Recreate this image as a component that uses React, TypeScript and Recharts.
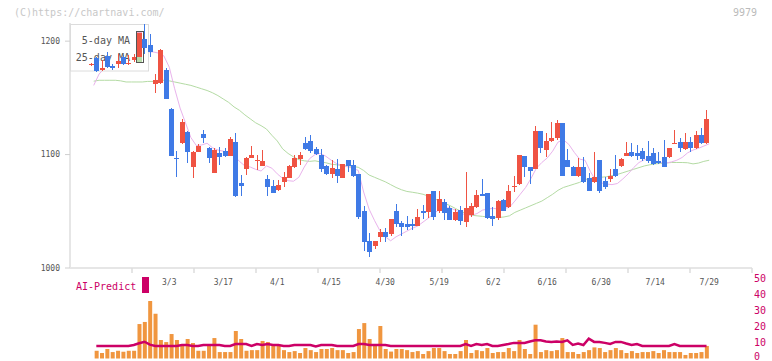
import React from 'react';
import { ComposedChart, Bar, Line, XAxis, YAxis } from 'recharts';

// trading days shown on the chart (one candle each)
const dates = [
  '2/6', '2/7', '2/10', '2/12', '2/13', '2/14', '2/17', '2/18', '2/19', '2/20',
  '2/21', '2/25', '2/26', '2/27', '2/28', '3/3', '3/4', '3/5', '3/6', '3/7',
  '3/10', '3/11', '3/12', '3/13', '3/14', '3/17', '3/18', '3/19', '3/21', '3/24',
  '3/25', '3/26', '3/27', '3/28', '3/31', '4/1', '4/2', '4/3', '4/4', '4/7',
  '4/8', '4/9', '4/10', '4/11', '4/14', '4/15', '4/16', '4/17', '4/18', '4/21',
  '4/22', '4/23', '4/24', '4/25', '4/28', '4/30', '5/1', '5/2', '5/7', '5/8',
  '5/9', '5/12', '5/13', '5/14', '5/15', '5/19', '5/20', '5/21', '5/22', '5/23',
  '5/26', '5/27', '5/28', '5/29', '5/30', '6/2', '6/3', '6/4', '6/5', '6/6',
  '6/9', '6/10', '6/11', '6/12', '6/13', '6/16', '6/17', '6/18', '6/19', '6/20',
  '6/23', '6/24', '6/25', '6/26', '6/27', '6/30', '7/1', '7/2', '7/3', '7/4',
  '7/7', '7/8', '7/9', '7/10', '7/11', '7/14', '7/15', '7/16', '7/17', '7/18',
  '7/22', '7/23', '7/24', '7/25', '7/28', '7/29',
];

const opens = [
  1179, 1185, 1175, 1187, 1178, 1179.5, 1186, 1180, 1183, 1186,
  1201.5, 1197, 1162, 1163, 1175, 1140, 1097, 1110, 1120, 1089,
  1102.5, 1118, 1106, 1084, 1101.5, 1103, 1099, 1111, 1075, 1087.5,
  1097, 1094, 1090, 1078.4, 1072.5, 1068.7, 1075.8, 1079.6, 1089, 1096,
  1110.4, 1112, 1104.8, 1100, 1090, 1083, 1087, 1079.6, 1095, 1090.7,
  1082.8, 1050, 1023.8, 1019.4, 1027.3, 1031.7, 1029.7, 1050, 1039.4, 1039,
  1039, 1037.3, 1050.2, 1049.6, 1067.6, 1050.2, 1058, 1053, 1042.5, 1051,
  1040.8, 1047, 1054, 1065, 1065.8, 1045.8, 1044.3, 1060, 1054, 1071.6,
  1074, 1098.7, 1088.7, 1087.2, 1120.7, 1104, 1112, 1114.8, 1127.5, 1095,
  1089.2, 1081.3, 1089, 1079, 1076, 1095, 1076.6, 1078.4, 1087, 1090,
  1099, 1102, 1101.6, 1103, 1099, 1101.6, 1094.5, 1097.5, 1097.5, 1110,
  1110.8, 1104.6, 1110.8, 1106, 1117.2, 1110,
];

const highs = [
  1181, 1186, 1183, 1190, 1180, 1189, 1188, 1188, 1189, 1208.5,
  1215, 1206, 1171, 1193, 1176, 1141, 1103, 1131, 1121, 1103,
  1109, 1122, 1107, 1105.5, 1107, 1106, 1115.5, 1119, 1082, 1098,
  1108, 1100, 1104, 1082, 1078, 1078, 1085, 1091, 1100, 1102.5,
  1115.7, 1117, 1107, 1104.8, 1091, 1095.5, 1096, 1092, 1095.5, 1095,
  1083, 1054.6, 1031, 1024, 1034.4, 1035.5, 1043.5, 1056.4, 1041, 1045.8,
  1043, 1051.7, 1055.5, 1065.5, 1068, 1067.6, 1060.8, 1055, 1052, 1054.6,
  1085, 1057, 1068.7, 1078.4, 1066, 1054, 1060, 1061, 1073, 1081,
  1100, 1099, 1089, 1125.4, 1121, 1118.7, 1128.4, 1130.4, 1128, 1104.8,
  1090, 1097, 1098, 1083.7, 1102, 1095.5, 1080, 1087.2, 1099.6, 1097,
  1111.3, 1110, 1108.4, 1106, 1111.9, 1105.7, 1102.5, 1112.8, 1106, 1121.6,
  1115, 1119.2, 1115.7, 1120.7, 1123, 1139.2,
];

const lows = [
  1178, 1173, 1174, 1176, 1175, 1176, 1179, 1179, 1182, 1181,
  1189, 1186, 1154, 1162, 1149, 1099, 1080, 1109, 1093, 1079,
  1102, 1110, 1093, 1084, 1091, 1098, 1099, 1063, 1063.5, 1082,
  1097, 1086, 1090, 1063.7, 1066, 1068, 1071, 1079, 1088, 1091,
  1104, 1101, 1100, 1084.8, 1082, 1079, 1074.5, 1079, 1085, 1080.4,
  1043.3, 1015, 1010, 1017, 1023.2, 1023, 1028, 1036, 1028.2, 1033.5,
  1033.5, 1037, 1043, 1043.7, 1042.7, 1048.2, 1042.3, 1042, 1041, 1038,
  1036.4, 1045, 1053, 1063.4, 1043, 1037, 1042, 1050, 1053, 1067.2,
  1073, 1080, 1074, 1087, 1101.6, 1098, 1111, 1113, 1081, 1089,
  1081, 1080, 1075, 1068, 1075, 1066.4, 1070, 1076, 1080, 1089,
  1099, 1098, 1095, 1094, 1093, 1091, 1092, 1089, 1097, 1109,
  1102.5, 1104, 1102.5, 1105, 1109, 1109,
];

const closes = [
  1180, 1174, 1176, 1177, 1176, 1182.5, 1180, 1181, 1186, 1207,
  1194, 1190.5, 1166, 1192, 1149, 1099, 1096, 1129, 1102.5, 1102,
  1108, 1115, 1097, 1104, 1098, 1099, 1113.5, 1063.5, 1072.5, 1097,
  1100, 1095, 1094.3, 1071.6, 1066.3, 1073, 1080.2, 1090, 1097, 1099.6,
  1104.8, 1103.3, 1100.7, 1087, 1083, 1088.4, 1081.3, 1091.6, 1090, 1081.3,
  1044.7, 1023, 1014.4, 1023.8, 1031.7, 1027.6, 1043.2, 1039, 1036.4, 1036.5,
  1037, 1044.7, 1048.7, 1065.2, 1045.2, 1060.8, 1048.7, 1042.3, 1049.5, 1041,
  1053, 1054.4, 1064.3, 1063.7, 1044.3, 1042.9, 1059.3, 1050.5, 1067.8, 1072.2,
  1099.6, 1088.7, 1085.7, 1120.7, 1106, 1112, 1115, 1127.5, 1081.3, 1089.2,
  1081.3, 1089.2, 1076, 1068.1, 1080, 1068, 1071.6, 1081, 1081, 1096,
  1101.6, 1099, 1099, 1096, 1094.5, 1091.4, 1092.8, 1089.2, 1105.5, 1110.4,
  1106, 1110.8, 1105.5, 1117.2, 1110, 1131.3,
];

const ma5 = [
  null, 1161, 1171, 1176, 1177, 1178, 1179, 1180, 1182, 1186,
  1190, 1190.5, 1190.5, 1189.5, 1187, 1177, 1158, 1141, 1128, 1115,
  1108, 1108.5, 1110, 1106, 1104, 1103, 1101, 1099, 1094, 1090,
  1089, 1087, 1085.5, 1090, 1088, 1083, 1079, 1077, 1076.5, 1080,
  1089, 1096.5, 1100, 1101, 1098.5, 1095, 1092, 1090.5, 1089.2, 1088,
  1086, 1067, 1052, 1042, 1033, 1027.6, 1024, 1027.5, 1030, 1032.5,
  1035, 1037, 1040.5, 1044, 1048, 1051.5, 1053, 1053, 1051, 1048.5,
  1046.5, 1046.5, 1048, 1051, 1052, 1052.6, 1052, 1052.5, 1053.5, 1059,
  1065, 1071, 1079, 1088, 1093, 1097, 1103, 1111, 1113, 1109,
  1102, 1096, 1095, 1085, 1077, 1075, 1074, 1073.5, 1074.5, 1078.5,
  1083, 1088.5, 1093, 1095.5, 1095.5, 1094.5, 1093, 1092.5, 1093.5, 1095,
  1097.5, 1101.5, 1104, 1105.5, 1107.5, 1109.5,
];

const ma25 = [
  null, 1164.7, 1165.5, 1165.5, 1165.5, 1165.5, 1165, 1164, 1164, 1164,
  1164, 1164.5, 1164.5, 1165, 1165.5, 1165, 1164, 1163, 1162, 1161,
  1159.5, 1158, 1156.5, 1154.5, 1152, 1149, 1146, 1142, 1139, 1135,
  1131.5, 1128, 1125.5, 1122.5, 1117, 1112, 1105, 1101, 1098, 1095.5,
  1094.5, 1094, 1094.5, 1093.5, 1092.8, 1091.5, 1091, 1090.5, 1090, 1089.5,
  1088.8, 1086, 1082, 1080, 1078, 1076, 1073.5, 1071, 1069, 1067.5,
  1066.8, 1066, 1065, 1063.3, 1061.5, 1059, 1057, 1055, 1052.5, 1050,
  1048, 1046.5, 1046, 1045.5, 1045, 1044.8, 1044.5, 1045, 1046, 1049,
  1051, 1053, 1055, 1057, 1059, 1062, 1065, 1068.5, 1071, 1072.5,
  1074, 1075.5, 1078, 1079, 1079.5, 1080, 1080.5, 1081.5, 1082.5, 1084,
  1085.5, 1087, 1088.5, 1090, 1091, 1091.8, 1092.2, 1092.6, 1093, 1093,
  1093, 1092.8, 1091.8, 1092.5, 1094, 1095,
];

const volume = [
  null, 4.8, 3.4, 5.9, 4.0, 4.8, 4.2, 4.8, 4.8, 21.4,
  22.7, 35.7, 27.8, 11.5, 10.2, 15.2, 11.5, 7.8, 12.1, 9.6,
  4.8, 4.8, 7.8, 12.7, 4.0, 4.0, 4.0, 17.1, 12.1, 4.8,
  5.2, 5.2, 10.9, 10.2, 9.0, 7.8, 5.2, 4.0, 4.6, 3.4,
  6.5, 5.2, 4.0, 5.9, 5.9, 6.5, 5.2, 5.2, 3.4, 4.0,
  18.3, 22.0, 12.1, 7.8, 20.2, 5.9, 4.3, 5.9, 5.9, 5.2,
  4.0, 4.6, 2.8, 4.6, 6.5, 6.5, 4.6, 2.8, 2.8, 4.6,
  11.5, 3.4, 5.2, 4.6, 6.5, 3.4, 4.0, 4.0, 6.5, 4.6,
  11.5, 5.9, 2.8, 21.0, 4.0, 5.2, 4.6, 5.2, 12.7, 4.0,
  4.0, 2.8, 4.0, 5.2, 6.9, 6.5, 4.0, 5.2, 6.5, 5.2,
  3.4, 4.6, 3.4, 4.0, 4.0, 4.6, 3.4, 5.2, 4.0, 4.0,
  4.0, 2.2, 3.4, 3.4, 4.0, 7.8,
];

const aiPredict = [
  null, 7.8, 7.8, 7.8, 7.8, 7.8, 7.8, 7.8, 8.4, 9.5,
  10.4, 8.6, 7.8, 7.8, 7.8, 7.8, 7.8, 8.4, 8.4, 7.8,
  7.8, 8.4, 8.4, 8.4, 8.4, 7.8, 7.8, 9.0, 9.0, 9.0,
  7.8, 9.0, 8.4, 9.0, 8.4, 8.4, 7.8, 7.8, 8.4, 8.4,
  8.4, 8.4, 7.5, 8.4, 8.4, 8.4, 7.8, 7.8, 7.8, 7.8,
  9.0, 9.0, 8.4, 8.4, 8.4, 8.4, 7.8, 7.8, 7.8, 7.8,
  7.8, 7.8, 7.8, 7.8, 7.8, 7.8, 7.8, 7.8, 7.8, 7.8,
  8.9, 7.8, 9.0, 8.4, 9.0, 7.8, 7.8, 8.4, 9.0, 9.7,
  9.7, 9.7, 10.6, 11.3, 11.3, 10.6, 10.3, 10.6, 10.3, 11.3,
  8.4, 9.3, 8.4, 12.3, 10.3, 10.3, 9.7, 9.0, 10.3, 10.3,
  9.3, 8.4, 9.0, 7.8, 7.8, 7.8, 7.8, 7.8, 7.8, 9.0,
  7.8, 7.8, 7.8, 7.8, 7.8, 7.8,
];

const dateTicks = ['3/3', '3/17', '4/1', '4/15', '4/30', '5/19', '6/2', '6/16', '6/30', '7/14', '7/29'];
const priceTicks = [1000, 1100, 1200];
const volumeTicks = [0, 10, 20, 30, 40, 50];
// evenly spaced tick marks along the bottom axis of the price panel
const axisStops = [0, 1, 2, 3, 4, 5, 6, 7, 8, 9, 10, 11];
const markedDate = '2/20';

const W = 772;
const H = 361;
const RED = '#ef5343';
const BLUE = '#3f7ae6';
const MONO = '"DejaVu Sans Mono", monospace';
const PAD = { left: 18.3, right: 42.8 };
const PRICE_DOMAIN: [number, number] = [1000, 1216];

const rows = dates.map((date, i) => ({
  date,
  open: opens[i],
  high: highs[i],
  low: lows[i],
  close: closes[i],
  range: [lows[i], highs[i]],
  ma5: ma5[i],
  ma25: ma25[i],
  volume: volume[i],
  predict: aiPredict[i],
  marked: date === markedDate,
}));

const stopRows = axisStops.map((v) => ({ v }));

function Candle(props: any) {
  const { x, y, width, height, payload } = props;
  if (!payload || height == null || isNaN(y)) return null;
  const { open, close, high, low, marked } = payload;
  const top = Math.min(y, y + height);
  const h = Math.abs(height);
  const k = h / (high - low);
  const py = (v: number) => top + (high - v) * k;
  const cx = Math.round(x + width / 2);
  const color = close >= open ? RED : BLUE;
  const bTop = py(Math.max(open, close));
  const bBot = py(Math.min(open, close));
  return (
    <g shapeRendering="crispEdges">
      <line x1={cx + 0.5} x2={cx + 0.5} y1={top} y2={top + h} stroke={color} strokeWidth={1} />
      <rect x={cx - 2} y={bTop} width={5} height={Math.max(1, bBot - bTop)} fill={color} />
      {marked && (
        <g>
          <rect x={cx - 2} y={bBot} width={5} height={py(low) - bBot} fill="#b9dcaa" />
          <rect x={cx - 2} y={py(high)} width={5} height={bTop - py(high)} fill="#f3a6c6" />
          <rect x={cx - 2.5} y={py(high)} width={7} height={py(low) - py(high)} fill="none" stroke="#555" strokeWidth={1.5} />
        </g>
      )}
    </g>
  );
}

function VolumeTick(props: any) {
  const { x, y, payload } = props;
  return (
    <text x={x} y={Math.min(y, 356.5)} fontSize={10} fill="#cc0066" fontFamily={MONO} dominantBaseline="central">
      {payload.value}
    </text>
  );
}

const layer: React.CSSProperties = { position: 'absolute', left: 0, top: 0 };

export default function App() {
  return (
    <div style={{ position: 'absolute', left: 0, top: 0, width: W, height: H, background: '#fff', overflow: 'hidden' }}>
      <div style={layer}>
        <ComposedChart width={W} height={H} data={rows} margin={{ top: 23, right: 20, left: 10, bottom: 73 }}>
          <XAxis
            dataKey="date"
            ticks={dateTicks}
            interval={0}
            padding={PAD}
            axisLine={false}
            tickLine={false}
            height={20}
            tickSize={0}
            tickMargin={11}
            tick={{ fontSize: 8, fill: '#555', fontFamily: MONO }}
          />
          <YAxis
            width={60}
            domain={PRICE_DOMAIN}
            ticks={priceTicks}
            interval={0}
            allowDataOverflow
            tickSize={5}
            tickMargin={5}
            axisLine={{ stroke: '#e6e6e6', strokeWidth: 2 }}
            tickLine={{ stroke: '#cfcfcf' }}
            tick={{ fontSize: 8, fill: '#555', fontFamily: MONO }}
          />
          <Line dataKey="ma25" stroke="#b4dba4" strokeWidth={1} dot={false} isAnimationActive={false} />
          <Line dataKey="ma5" stroke="#e9b3ec" strokeWidth={1} dot={false} isAnimationActive={false} />
        </ComposedChart>
      </div>

      <div style={layer}>
        <ComposedChart width={W} height={H} data={stopRows} margin={{ top: 23, right: 20, left: 70, bottom: 83 }}>
          <XAxis
            dataKey="v"
            type="number"
            domain={[0, 11]}
            ticks={axisStops.slice(1)}
            interval={0}
            height={10}
            tickSize={5}
            tickFormatter={() => ''}
            axisLine={{ stroke: '#e6e6e6', strokeWidth: 2 }}
            tickLine={{ stroke: '#dddddd', strokeWidth: 1.5 }}
          />
          <YAxis hide />
        </ComposedChart>
      </div>

      <svg style={layer} width={W} height={H} fontFamily={MONO}>
        <text x={14} y={12} fontSize={10} fill="#c8c8c8" dominantBaseline="central">(C)https://chartnavi.com/</text>
        <text x={757} y={12} fontSize={10} fill="#bbb" textAnchor="end" dominantBaseline="central">9979</text>
        <rect x={70.5} y={24.5} width={78} height={46.5} fill="#fff" stroke="#dcdcdc" />
        <text x={130} y={40} fontSize={10} fill="#555" textAnchor="end" dominantBaseline="central">5-day MA</text>
        <text x={130} y={57} fontSize={10} fill="#555" textAnchor="end" dominantBaseline="central">25-day MA</text>
        <text x={76} y={286} fontSize={10} fill="#cc0066" dominantBaseline="central">AI-Predict</text>
        <rect x={142} y={277} width={7} height={16} fill="#cc0066" />
      </svg>

      <div style={layer}>
        <ComposedChart width={W} height={H} data={rows} margin={{ top: 23, right: 20, left: 70, bottom: 93 }}>
          <XAxis dataKey="date" hide height={0} padding={PAD} />
          <YAxis hide domain={PRICE_DOMAIN} allowDataOverflow />
          <Bar dataKey="range" shape={(p: any) => <Candle {...p} />} isAnimationActive={false} />
        </ComposedChart>
      </div>

      <div style={layer}>
        <ComposedChart width={W} height={H} data={rows} margin={{ top: 278, right: 0, left: 70, bottom: 2.5 }}>
          <XAxis dataKey="date" hide height={0} padding={PAD} />
          <YAxis
            orientation="right"
            width={20}
            domain={[0, 50]}
            ticks={volumeTicks}
            interval={0}
            axisLine={false}
            tickLine={false}
            tickSize={0}
            tickMargin={2}
            tick={(p: any) => <VolumeTick {...p} />}
          />
          <Bar dataKey="volume" fill="#f0963f" barSize={4} isAnimationActive={false} />
          <Line dataKey="predict" stroke="#cc0066" strokeWidth={2.5} dot={false} isAnimationActive={false} />
        </ComposedChart>
      </div>
    </div>
  );
}
